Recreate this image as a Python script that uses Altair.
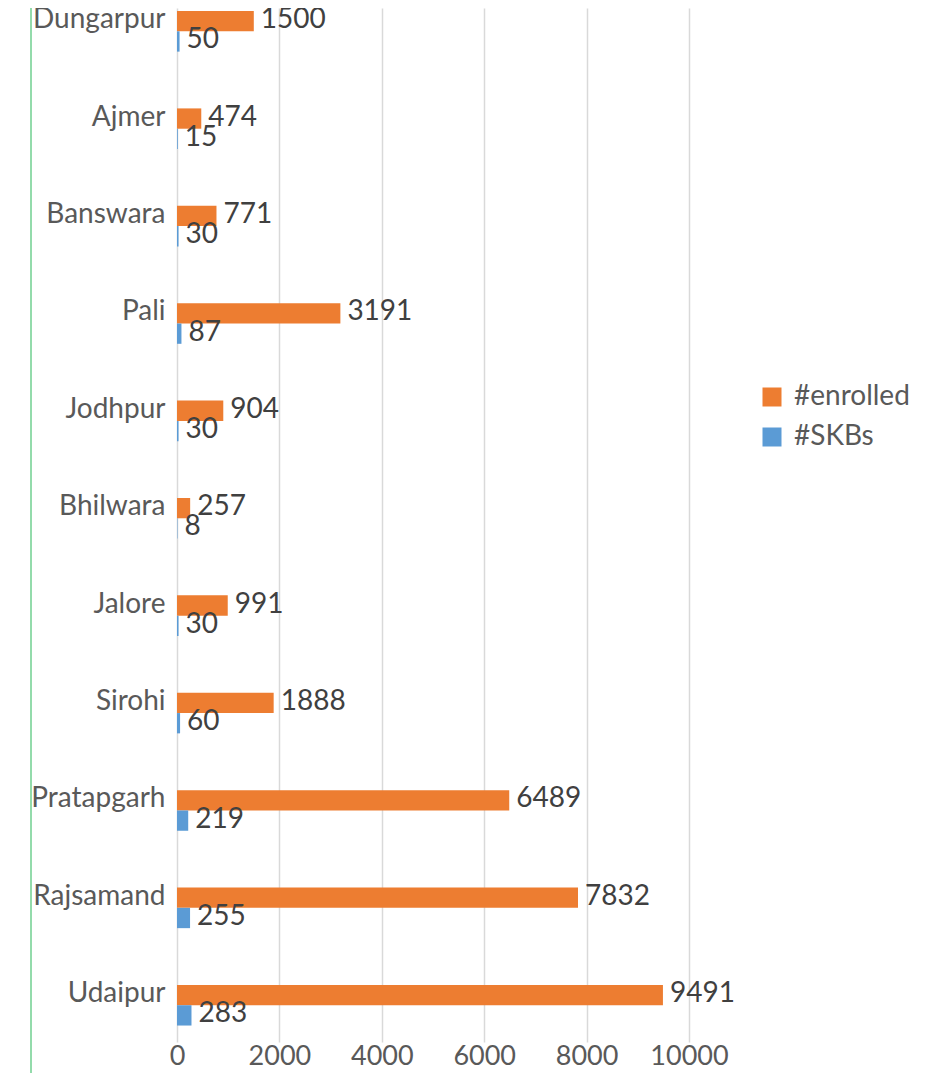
import altair as alt
import pandas as pd

districts = ["Dungarpur", "Ajmer", "Banswara", "Pali", "Jodhpur", "Bhilwara",
             "Jalore", "Sirohi", "Pratapgarh", "Rajsamand", "Udaipur"]
enrolled = [1500, 474, 771, 3191, 904, 257, 991, 1888, 6489, 7832, 9491]
skbs = [50, 15, 30, 87, 30, 8, 30, 60, 219, 255, 283]
series_names = ["#enrolled", "#SKBs"]
series_colors = ["#ED7D31", "#5B9BD5"]
x_ticks = [0, 2000, 4000, 6000, 8000, 10000]

rows = []
for d, e, s in zip(districts, enrolled, skbs):
    rows.append({"district": d, "series": "#enrolled", "value": e})
    rows.append({"district": d, "series": "#SKBs", "value": s})
df = pd.DataFrame(rows)

FONT = "Lato"

y_enc = alt.Y(
    "district:N", sort=districts,
    scale=alt.Scale(paddingInner=0.583, paddingOuter=0.1, align=0.155),
    axis=alt.Axis(title=None, domain=False, ticks=False, labelFontSize=28,
                  labelFont=FONT, labelColor="#595959", labelPadding=12,
                  labelOffset=-11),
)
yoff_enc = alt.YOffset("series:N", sort=series_names,
                       scale=alt.Scale(paddingInner=0, paddingOuter=0))
x_enc = alt.X(
    "value:Q", scale=alt.Scale(domain=[0, 10000], nice=False),
    axis=alt.Axis(values=x_ticks, format="d", title=None, grid=True,
                  gridColor="#d9d9d9", gridWidth=1.5, domain=False,
                  ticks=False, labelFontSize=27, labelFont=FONT,
                  labelColor="#595959", labelPadding=1,
                  labelFlush=False, labelOverlap=False),
)

base = alt.Chart(df).encode(y=y_enc, yOffset=yoff_enc)

bars = base.mark_bar().encode(
    x=x_enc,
    color=alt.Color(
        "series:N",
        scale=alt.Scale(domain=series_names, range=series_colors),
        legend=alt.Legend(title=None, orient="none", legendX=581, legendY=375,
                          symbolType="square", symbolSize=361,
                          symbolStrokeWidth=0, labelFontSize=28,
                          labelFont=FONT, labelColor="#595959",
                          labelOffset=8, rowPadding=12, padding=0),
    ),
)

labels = base.mark_text(align="left", baseline="middle", dx=7, dy=-1,
                        fontSize=28, font=FONT, color="#404040").encode(
    x=alt.X("value:Q"),
    text=alt.Text("value:Q", format="d"),
)

edge = alt.Chart(pd.DataFrame({"k": [0]})).mark_rule(
    color="#6fcf8f", strokeWidth=1.5
).encode(x=alt.value(-146), y=alt.value(-10), y2=alt.value(1100))

chart = alt.layer(edge, bars, labels).properties(
    width=512, height=1034,
    autosize=alt.AutoSizeParams(type="none"),
    padding={"left": 169, "top": 0, "right": 239, "bottom": 31},
).configure_view(stroke=None)

chart.save("out.html", embed_options={"renderer": "svg", "actions": False})
